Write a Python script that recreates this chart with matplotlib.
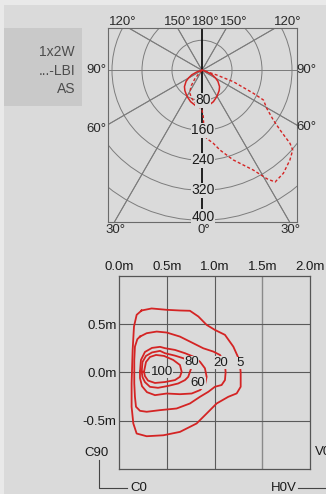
import numpy as np
import matplotlib
matplotlib.use('Agg')
import matplotlib.pyplot as plt
from matplotlib.patches import Circle, Rectangle
from matplotlib.lines import Line2D

plt.rcParams['font.family'] = ['Liberation Sans Narrow', 'Liberation Sans', 'DejaVu Sans']

W, H = 326, 494
FOND = '#dadada'
ROUGE = '#d42424'

# ---- courbe photometrique (cd/klm) ----
anneaux = [80, 160, 240, 320, 400]
rayons = [30, 60, 90, 120, 150]

# plan C0-C180, symetrique
gamma_c0 = [0, 10, 20, 30, 40, 47, 55, 60, 66, 72, 80, 90]
cd_c0 = [99, 96, 89, 80, 71, 64, 52, 42, 30, 15, 4, 0]

# plan C90-C270 (gamma negatif = cote C270)
gamma_c90 = [-50, -45, -40, -35, -29, -20, -10, 0, 1.6, 1.9, 3.9, 8.8, 12.7, 19.2,
             27.2, 30.9, 33.2, 38.3, 44.4, 48.7, 50.3, 52.6, 55.1, 59.6, 64.2, 65.9,
             70, 72.3, 76, 90]
cd_c90 = [0, 10, 30, 50, 68, 80, 90, 106, 124, 164, 182, 197, 218, 253,
          299, 337, 356, 350, 335, 322, 305, 262, 232, 200, 182, 150,
          89, 41, 8, 0]

# ---- courbes isolux (m) ----
iso5_x = [0.234, 0.339, 0.497, 0.636, 0.741, 0.829, 0.916, 1.003, 1.108, 1.196, 1.259, 1.273,
          1.273, 1.231, 1.143, 1.021, 0.916, 0.811, 0.636, 0.462, 0.287, 0.182, 0.147, 0.129,
          0.129, 0.140, 0.154, 0.182, 0.234]
iso5_y = [0.640, 0.661, 0.647, 0.640, 0.637, 0.578, 0.491, 0.439, 0.388, 0.266, 0.128, 0.0,
          -0.149, -0.218, -0.253, -0.322, -0.426, -0.529, -0.616, -0.651, -0.661, -0.633, -0.529, -0.356,
          -0.114, 0.232, 0.474, 0.595, 0.640]

iso20_x = [0.217, 0.287, 0.392, 0.497, 0.636, 0.776, 0.881, 0.986, 1.056, 1.108, 1.115, 1.108,
           1.073, 1.003, 0.934, 0.846, 0.741, 0.601, 0.427, 0.287, 0.217, 0.175, 0.164, 0.157,
           0.157, 0.164, 0.189, 0.217]
iso20_y = [0.370, 0.405, 0.422, 0.412, 0.370, 0.301, 0.249, 0.215, 0.180, 0.093, 0.0, -0.080,
           -0.131, -0.149, -0.201, -0.253, -0.322, -0.374, -0.391, -0.408, -0.398, -0.356, -0.253, -0.114,
           0.128, 0.266, 0.343, 0.370]

iso60_x = [0.217, 0.227, 0.269, 0.343, 0.427, 0.479, 0.584, 0.689, 0.776, 0.846, 0.898, 0.916,
           0.898, 0.846, 0.759, 0.636, 0.497, 0.374, 0.290, 0.238, 0.217, 0.217]
iso60_y = [0.006, 0.128, 0.211, 0.253, 0.264, 0.250, 0.232, 0.198, 0.163, 0.110, 0.042, -0.046,
           -0.132, -0.184, -0.219, -0.226, -0.219, -0.236, -0.205, -0.143, -0.059, 0.006]

iso80_x = [0.235, 0.243, 0.280, 0.343, 0.427, 0.479, 0.584, 0.671, 0.759, 0.759, 0.741, 0.723,
           0.689, 0.618, 0.514, 0.406, 0.322, 0.269, 0.243, 0.235]
iso80_y = [0.006, 0.107, 0.170, 0.206, 0.222, 0.198, 0.173, 0.146, 0.110, 0.058, 0.006, -0.046,
           -0.080, -0.115, -0.140, -0.160, -0.150, -0.101, -0.049, 0.006]

iso100_x = [0.259, 0.280, 0.322, 0.385, 0.469, 0.566, 0.636, 0.654, 0.636, 0.584, 0.479, 0.374,
            0.301, 0.269, 0.259]
iso100_y = [0.006, 0.107, 0.159, 0.180, 0.170, 0.128, 0.076, 0.006, -0.046, -0.080, -0.100, -0.110,
            -0.085, -0.039, 0.006]

niveaux = ['5', '20', '60', '80', '100']
etiq_x = [1.265, 1.063, 0.828, 0.759, 0.444]
etiq_y = [0.097, 0.100, -0.108, 0.102, 0.006]

graduations_m = [0.0, 0.5, 1.0, 1.5, 2.0]
graduations_y = [-0.5, 0.0, 0.5]


def fx(x):  # pixel -> fraction de figure
    return x / W


def fy(y):
    return 1 - y / H


fig = plt.figure(figsize=(W / 100, H / 100), dpi=100)
fig.patch.set_facecolor('#e9e9e9')
fig.add_artist(Rectangle((fx(4), 0), 1, fy(5), transform=fig.transFigure,
                         facecolor=FOND, edgecolor='none', zorder=-10))

# cartouche
fig.add_artist(Rectangle((fx(4), fy(106)), fx(78), 78 / H, transform=fig.transFigure,
                         facecolor='#c9c9c9', edgecolor='none', zorder=-5))
for txt, y in zip(['1x2W', '...-LBI', 'AS'], [51.7, 70.7, 89.3]):
    fig.text(fx(75), fy(y), txt, ha='right', va='center', fontsize=10, color='#4d4d4d')

# ---- diagramme polaire ----
ax = fig.add_axes([fx(108), fy(222), fx(297) - fx(108), fy(28) - fy(222)])
ax.set_facecolor('none')
ech = 400 / 150.0
ax.set_xlim((108 - 202) * ech, (297 - 202) * ech)
ax.set_ylim((70.3 - 222) * ech, (70.3 - 28) * ech)
ax.set_xticks([])
ax.set_yticks([])
for s in ax.spines.values():
    s.set_color('#6a6a6a')
    s.set_linewidth(0.8)

for r in anneaux:
    ax.add_patch(Circle((0, 0), r, fill=False, edgecolor='#7c7c7c', lw=0.7))
for a in rayons:
    t = np.radians(a)
    ax.plot([-800 * np.sin(t), 800 * np.sin(t)], [800 * np.cos(t), -800 * np.cos(t)],
            color='#7c7c7c', lw=0.7)
    ax.plot([800 * np.sin(t), -800 * np.sin(t)], [800 * np.cos(t), -800 * np.cos(t)],
            color='#7c7c7c', lw=0.7)
ax.axvline(0, color='#111111', lw=1.3)

g = np.radians(np.concatenate([-np.array(gamma_c0[::-1]), gamma_c0]))
c = np.concatenate([cd_c0[::-1], cd_c0])
ax.plot(c * np.sin(g), -c * np.cos(g), color=ROUGE, lw=1.1)
g = np.radians(gamma_c90)
c = np.array(cd_c90)
ax.plot(c * np.sin(g), -c * np.cos(g), color=ROUGE, lw=1.0, ls=(0, (2.2, 1.6)))

y_bas = ax.get_ylim()[0]
for r in anneaux:
    ax.text(2, max(-r, y_bas + 14), str(r), ha='center', va='center', fontsize=10, color='#1a1a1a',
            bbox=dict(facecolor=FOND, edgecolor='none', pad=0.3), zorder=5)

ang = [('120°', 122.7, 22.3), ('150°', 177.7, 22.3), ('180°', 205.5, 22.3), ('150°', 233.3, 22.3),
       ('120°', 287.3, 22.3), ('90°', 96.7, 70.3), ('90°', 306, 70.3), ('60°', 96.7, 129.3),
       ('60°', 306, 127.3), ('30°', 115, 230), ('0°', 204, 230), ('30°', 290.7, 230)]
for txt, x, y in ang:
    fig.text(fx(x), fy(y), txt, ha='center', va='center', fontsize=9.5, color='#2a2a2a')

# ---- isolux ----
ax2 = fig.add_axes([fx(119.3), fy(469), fx(310) - fx(119.3), fy(275.7) - fy(469)])
ax2.set_facecolor('none')
ax2.set_xlim(0, 2)
ax2.set_ylim(-1, 1)
for v in graduations_m[1:-1]:
    ax2.axvline(v, color='#8a8a8a' if v == 1.5 else '#5a5a5a', lw=1.0 if v == 1.5 else 0.8)
for v in graduations_y:
    ax2.axhline(v, color='#5a5a5a', lw=0.8)
ax2.xaxis.tick_top()
ax2.set_xticks(graduations_m)
ax2.set_xticklabels(['%.1fm' % v for v in graduations_m])
ax2.set_yticks(graduations_y)
ax2.set_yticklabels(['%.1fm' % v for v in graduations_y])
ax2.tick_params(length=0, pad=2, labelsize=9.5, colors='#1a1a1a')
for s in ax2.spines.values():
    s.set_color('#555555')
    s.set_linewidth(0.9)

for xs, ys in [(iso5_x, iso5_y), (iso20_x, iso20_y), (iso60_x, iso60_y),
               (iso80_x, iso80_y), (iso100_x, iso100_y)]:
    ax2.plot(xs, ys, color=ROUGE, lw=1.3, solid_joinstyle='round')
for txt, x, y in zip(niveaux, etiq_x, etiq_y):
    ax2.text(x, y, txt, ha='center', va='center', fontsize=9.5, color='#1a1a1a',
             bbox=dict(facecolor=FOND, edgecolor='none', pad=0.2), zorder=5)

# reperes C90 / C0 / H0V / V0
gris = '#444444'
fig.text(fx(96.7), fy(453.3), 'C90', ha='center', va='center', fontsize=9.5, color='#1a1a1a')
fig.text(fx(138.8), fy(488.3), 'C0', ha='center', va='center', fontsize=9.5, color='#1a1a1a')
fig.text(fx(284), fy(488.3), 'H0V', ha='center', va='center', fontsize=9.5, color='#1a1a1a')
fig.text(fx(315.3), fy(451.7), 'V0', ha='left', va='center', fontsize=9.5, color='#1a1a1a')
fig.add_artist(Line2D([fx(99.3), fx(99.3), fx(126.7)], [fy(460), fy(487.7), fy(487.7)],
                      transform=fig.transFigure, color=gris, lw=0.8))
fig.add_artist(Line2D([fx(298.3), fx(326)], [fy(487.7), fy(487.7)],
                      transform=fig.transFigure, color=gris, lw=0.8))

fig.savefig('out.png', dpi=100, facecolor=fig.get_facecolor())
